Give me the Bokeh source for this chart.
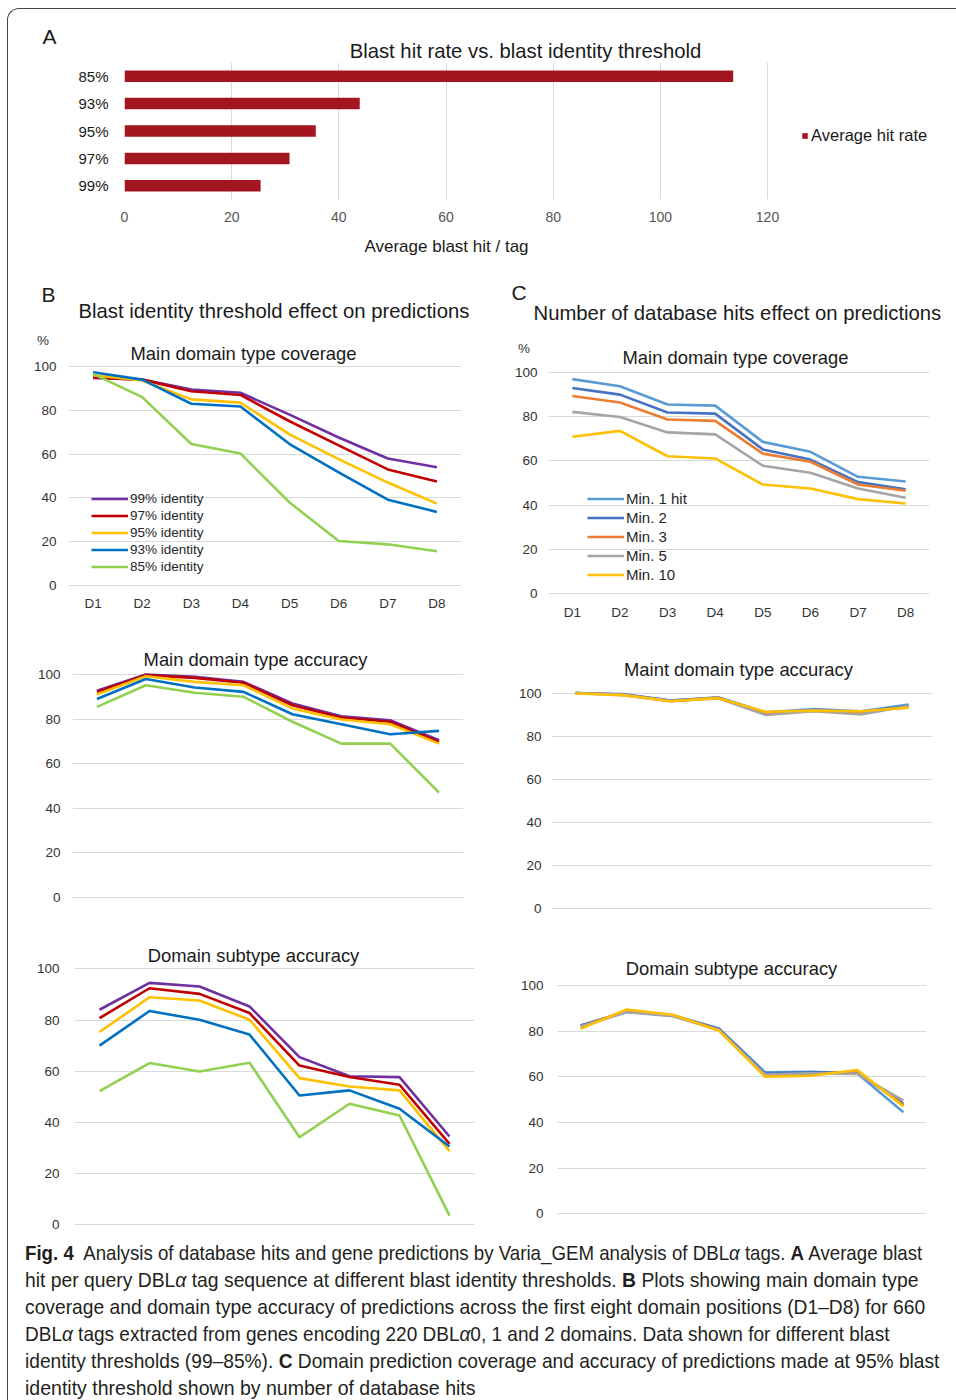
from bokeh.plotting import figure
from bokeh.models import Range1d, FactorRange, FixedTicker, Label, Legend, LegendItem, Div
from bokeh.layouts import column, row
from bokeh.embed import file_html
from bokeh.resources import INLINE

# ---------------- data ----------------
thresholds = ["85%", "93%", "95%", "97%", "99%"]
avg_hit_rate = [113.6, 43.9, 35.7, 30.8, 25.4]
a_ticks = [0, 20, 40, 60, 80, 100, 120]

positions = ["D1", "D2", "D3", "D4", "D5", "D6", "D7", "D8"]
pct_ticks = [0, 20, 40, 60, 80, 100]

identity_names = ["99% identity", "97% identity", "95% identity", "93% identity", "85% identity"]
identity_colors = ["#7030A0", "#C00000", "#FFC000", "#0070C0", "#92D050"]

cov_99 = [94.8, 94.0, 89.5, 88.0, 78.0, 67.6, 58.0, 54.0]
cov_97 = [95.0, 94.0, 88.7, 87.0, 75.0, 64.0, 53.0, 47.5]
cov_95 = [96.0, 93.6, 85.0, 83.5, 69.0, 57.7, 47.0, 37.4]
cov_93 = [97.4, 94.0, 83.0, 81.7, 64.6, 51.6, 39.2, 33.6]
cov_85 = [96.6, 86.0, 64.6, 60.3, 37.9, 20.3, 18.8, 15.6]

acc_99 = [92.7, 100.0, 99.0, 96.7, 87.0, 81.3, 79.5, 70.5]
acc_97 = [92.2, 99.7, 98.5, 96.3, 86.2, 80.7, 78.8, 69.8]
acc_95 = [91.0, 99.2, 96.7, 95.2, 84.8, 79.8, 77.7, 69.0]
acc_93 = [89.0, 98.0, 94.2, 92.2, 82.2, 77.7, 73.2, 74.7]
acc_85 = [85.5, 95.2, 91.8, 90.0, 78.8, 69.0, 69.0, 47.0]

sub_99 = [84.0, 94.5, 93.1, 85.3, 65.5, 58.0, 57.7, 34.5]
sub_97 = [80.7, 92.4, 90.2, 82.7, 62.2, 57.7, 54.7, 31.6]
sub_95 = [75.3, 88.9, 87.6, 80.1, 57.3, 54.0, 52.5, 28.8]
sub_93 = [70.0, 83.5, 80.1, 74.3, 50.5, 52.5, 45.3, 30.6]
sub_85 = [52.2, 63.2, 59.9, 63.3, 34.2, 47.3, 42.7, 3.6]

hits_names = ["Min. 1 hit", "Min. 2", "Min. 3", "Min. 5", "Min. 10"]
hits_colors = ["#5B9BD5", "#4472C4", "#ED7D31", "#A5A5A5", "#FFC000"]

hcov_1 = [97.0, 93.8, 85.5, 85.0, 68.6, 64.1, 52.8, 50.7]
hcov_2 = [93.0, 90.0, 81.9, 81.4, 65.2, 60.6, 50.4, 47.2]
hcov_3 = [89.4, 86.4, 78.7, 78.1, 63.3, 59.6, 49.3, 46.5]
hcov_5 = [82.2, 79.9, 72.9, 72.0, 57.8, 54.6, 47.5, 43.3]
hcov_10 = [70.9, 73.6, 62.1, 61.1, 49.3, 47.5, 42.7, 40.7]

hacc_1 = [100.0, 99.5, 96.5, 98.0, 91.0, 92.6, 91.5, 94.6]
hacc_2 = [100.0, 99.3, 96.5, 97.8, 90.8, 92.0, 91.2, 94.0]
hacc_3 = [100.0, 99.2, 96.2, 97.8, 90.5, 91.8, 91.0, 93.5]
hacc_5 = [100.0, 99.0, 96.3, 97.5, 89.8, 91.5, 90.0, 94.0]
hacc_10 = [99.8, 99.0, 96.2, 97.6, 91.3, 91.8, 91.5, 93.2]

hsub_1 = [82.5, 88.5, 87.0, 81.2, 62.0, 62.2, 61.5, 44.5]
hsub_2 = [82.5, 88.5, 86.8, 81.0, 61.5, 62.0, 61.8, 48.2]
hsub_3 = [82.0, 89.0, 87.0, 80.5, 60.5, 61.0, 62.5, 47.5]
hsub_5 = [82.0, 88.3, 86.5, 80.5, 61.0, 61.5, 61.3, 49.6]
hsub_10 = [81.0, 89.5, 87.2, 80.2, 60.0, 60.5, 63.0, 47.0]

FONT = "Liberation Sans"
DARK = "#1a1a1a"
TICK = "#333333"
GRID = "#D9D9D9"
X0, Y0 = 8, 9          # page position of the layout's content
TITLE_PX, SUB_PX = 20.3, 18.4


def base_fig(w, h, bl, br, bt, bb, x_range, y_range):
    p = figure(width=w, height=h, x_range=x_range, y_range=y_range,
               min_border_left=bl, min_border_right=br, min_border_top=bt, min_border_bottom=bb,
               output_backend="svg", toolbar_location=None, outline_line_color=None,
               frame_align=False)
    for ax in (p.xaxis, p.yaxis):
        ax.axis_line_color = None
        ax.major_tick_line_color = None
        ax.minor_tick_line_color = None
        ax.major_tick_out = 0
        ax.major_tick_in = 0
        ax.minor_tick_out = 0
        ax.major_label_text_font = FONT
        ax.major_label_text_color = TICK
    return p


def band(left, top, w, h, transparent=False):
    """A text strip whose data coordinates are page pixels."""
    p = figure(width=w, height=h, x_range=Range1d(left, left + w), y_range=Range1d(top + h, top),
               x_axis_type=None, y_axis_type=None, min_border=0,
               output_backend="svg", toolbar_location=None, outline_line_color=None,
               frame_align=False)
    if transparent:
        p.border_fill_alpha = 0
        p.background_fill_alpha = 0
    return p


def add_text(p, to_data, text, px, py, size, align="left", color=DARK):
    x, y = to_data(px, py)
    p.add_layout(Label(x=x, y=y, text=text, text_font=FONT, text_font_size=f"{size}px",
                       text_align=align, text_baseline="middle", text_color=color))


def identity(px, py):
    return px, py


# ---------------- panel A ----------------
A_FL, A_FR0, A_FT, A_FB = 124, 767, 62, 199     # frame; value 120 sits at A_FR0
A_FR = 946                                       # frame extends under the legend
A_TOP, A_H = 62, 170
a_ppu = (A_FR0 - A_FL) / 120.0
band_a = band(X0, Y0, 940, A_TOP - Y0, transparent=True)
add_text(band_a, identity, "A", 42, 36, 21)
add_text(band_a, identity, "Blast hit rate vs. blast identity threshold", 525, 50, TITLE_PX,
         align="center")

pa = base_fig(940, A_H, A_FL - X0, X0 + 940 - A_FR, A_FT - A_TOP, A_TOP + A_H - A_FB,
              Range1d(0, (A_FR - A_FL) / a_ppu), FactorRange(*reversed(thresholds)))
bars = pa.hbar(y=thresholds, left=0, right=avg_hit_rate, height=0.42,
               fill_color="#A3161F", line_color=None)
pa.xaxis.ticker = FixedTicker(ticks=a_ticks)
pa.xgrid.ticker = FixedTicker(ticks=a_ticks)
pa.xgrid.grid_line_color = GRID
pa.ygrid.grid_line_color = None
pa.xaxis.major_label_text_font_size = "14px"
pa.xaxis.major_label_text_color = "#555555"
pa.xaxis.major_label_standoff = 12
pa.yaxis.major_label_text_font_size = "15px"
pa.yaxis.major_label_standoff = 16
pa.yaxis.major_label_text_color = DARK
leg_a = Legend(items=[LegendItem(label="Average hit rate", renderers=[bars])],
               location=(801 - A_FL, A_FB - 145), padding=0, margin=0, spacing=0,
               glyph_width=7, glyph_height=7, label_height=7, label_standoff=3,
               label_text_font=FONT, label_text_font_size="16.5px", label_text_color=DARK,
               border_line_color=None, background_fill_alpha=0)
pa.add_layout(leg_a, "center")

A2_TOP = A_TOP + A_H
band_a2 = band(X0, A2_TOP, 940, 273 - A2_TOP)
add_text(band_a2, identity, "Average blast hit / tag", 446, 246, 17, align="center")


# ---------------- line panels ----------------
def line_panel(box, x_first, x_last, y100, y0, colors, series, ystand,
               show_x=False, xstand=8, unit=None):
    left, top, w, h = box
    spacing = (x_last - x_first) / 7.0
    ppu = (y0 - y100) / 100.0
    bl = round(x_first - spacing / 2 - left)
    fw = round(spacing * 8)
    br = w - bl - fw
    fb = round(y0 + ppu)                 # frame bottom (page)
    fh = fb - top
    bb = h - fh
    y_start = -(fb - y0) / ppu
    y_end = 100 + (y100 - top) / ppu
    p = base_fig(w, h, bl, br, 0, bb, FactorRange(*positions), Range1d(y_start, y_end))
    ticks = list(pct_ticks)
    if unit is not None:
        ticks.append(unit)
        p.yaxis.major_label_overrides = {unit: "%\u00a0\u00a0"}
    p.yaxis.ticker = FixedTicker(ticks=ticks)
    p.ygrid.ticker = FixedTicker(ticks=pct_ticks)
    p.ygrid.grid_line_color = GRID
    p.xgrid.grid_line_color = None
    p.yaxis.major_label_text_font_size = "13.5px"
    p.yaxis.major_label_standoff = ystand
    if show_x:
        p.xaxis.major_label_text_font_size = "13.5px"
        p.xaxis.major_label_standoff = xstand
    else:
        p.xaxis.visible = False
    rends = [p.line(x=positions, y=vals, line_color=c, line_width=2.6, line_join="round")
             for vals, c in zip(series, colors)]
    fl = left + bl

    def to_data(px, py):
        return ((px - fl) / fw * 8.0, y_end - (py - top) / fh * (y_end - y_start))

    geom = dict(fl=fl, fb=fb)
    return p, to_data, rends, geom


def add_legend(p, geom, names, rends, left_px, top_px, row_h, size):
    bottom_px = top_px + len(names) * row_h
    leg = Legend(items=[LegendItem(label=nm, renderers=[r]) for nm, r in zip(names, rends)],
                 location=(left_px - geom["fl"], geom["fb"] - bottom_px),
                 padding=0, margin=0, spacing=0, glyph_width=37, glyph_height=row_h,
                 label_height=row_h, label_standoff=2, label_text_font=FONT,
                 label_text_font_size=f"{size}px", label_text_color="#262626",
                 border_line_color=None, background_fill_alpha=0)
    p.add_layout(leg, "center")


BX, BW, CX, CW = 8, 480, 488, 460
ROW_END = 1234

# column B
bb1 = band(BX, 273, BW, 57)
add_text(bb1, identity, "B", 41, 294, 21)
add_text(bb1, identity, "Blast identity threshold effect on predictions", 78, 310, TITLE_PX)
b1, b1d, b1r, b1g = line_panel((BX, 330, BW, 310), 93, 437, 366, 585, identity_colors,
                               [cov_99, cov_97, cov_95, cov_93, cov_85], ystand=12,
                               show_x=True, xstand=8, unit=112)
add_text(b1, b1d, "Main domain type coverage", 243, 353, SUB_PX, align="center")
add_legend(b1, b1g, identity_names, b1r, 91, 490, 17, 13.5)

b2, b2d, _, _ = line_panel((BX, 640, BW, 295), 96.5, 439, 674, 897, identity_colors,
                           [acc_99, acc_97, acc_95, acc_93, acc_85], ystand=12)
add_text(b2, b2d, "Main domain type accuracy", 255, 659, SUB_PX, align="center")

b3, b3d, _, _ = line_panel((BX, 935, BW, ROW_END - 935), 99.3, 449.3, 968.3, 1224.3,
                           identity_colors, [sub_99, sub_97, sub_95, sub_93, sub_85], ystand=15)
add_text(b3, b3d, "Domain subtype accuracy", 253, 955, SUB_PX, align="center")

# column C
cb1 = band(CX, 273, CW, 65)
add_text(cb1, identity, "C", 511, 292, 21)
add_text(cb1, identity, "Number of database hits effect on predictions", 533, 312, TITLE_PX)
c1, c1d, c1r, c1g = line_panel((CX, 338, CW, 302), 572, 905, 372, 593, hits_colors,
                               [hcov_1, hcov_2, hcov_3, hcov_5, hcov_10], ystand=11,
                               show_x=True, xstand=9, unit=111)
add_text(c1, c1d, "Main domain type coverage", 735, 357, SUB_PX, align="center")
add_legend(c1, c1g, hits_names, c1r, 587, 489, 19, 15)

c2, c2d, _, _ = line_panel((CX, 640, CW, 295), 575, 908, 692.5, 908, hits_colors,
                           [hacc_1, hacc_2, hacc_3, hacc_5, hacc_10], ystand=10)
add_text(c2, c2d, "Maint domain type accuracy", 738, 669, SUB_PX, align="center")

c3, c3d, _, _ = line_panel((CX, 935, CW, ROW_END - 935), 580, 903, 985, 1213.3, hits_colors,
                           [hsub_1, hsub_2, hsub_3, hsub_5, hsub_10], ystand=14)
add_text(c3, c3d, "Domain subtype accuracy", 731, 968, SUB_PX, align="center")

col_b = column(bb1, b1, b2, b3)
col_c = column(cb1, c1, c2, c3)

# ---------------- caption ----------------
caption_lines = [
    "<b>Fig. 4</b>&nbsp; Analysis of database hits and gene predictions by Varia_GEM analysis of DBL<i>α</i> tags. <b>A</b> Average blast",
    "hit per query DBL<i>α</i> tag sequence at different blast identity thresholds. <b>B</b> Plots showing main domain type",
    "coverage and domain type accuracy of predictions across the first eight domain positions (D1–D8) for 660",
    "DBL<i>α</i> tags extracted from genes encoding 220 DBL<i>α</i>0, 1 and 2 domains. Data shown for different blast",
    "identity thresholds (99–85%). <b>C</b> Domain prediction coverage and accuracy of predictions made at 95% blast",
    "identity threshold shown by number of database hits",
]
line_scale = [0.890, 0.920, 0.917, 0.905, 0.913, 0.930]
cap_html = ("<div style=\"font-family:'Liberation Sans',sans-serif;font-size:21px;"
            "line-height:27px;color:#231F20;padding:0 0 0 12px;\">"
            + "".join(f"<div style=\"white-space:nowrap;height:27px;\"><span style=\"display:inline-block;"
                      f"transform:scaleX({s});transform-origin:0 50%;\">{t}</span></div>"
                      for t, s in zip(caption_lines, line_scale))
            + "</div>")
cap = Div(text=cap_html, width=940, height=1398 - ROW_END, styles={"overflow": "hidden"})

layout = column(band_a, pa, band_a2, row(col_b, col_c), cap,
                styles={"margin-left": "7px", "margin-top": "8px",
                        "border-left": "1px solid #444444", "border-top": "1px solid #444444",
                        "border-top-left-radius": "12px"})

open("out.html", "w").write(file_html(layout, INLINE, title="Fig. 4"))
